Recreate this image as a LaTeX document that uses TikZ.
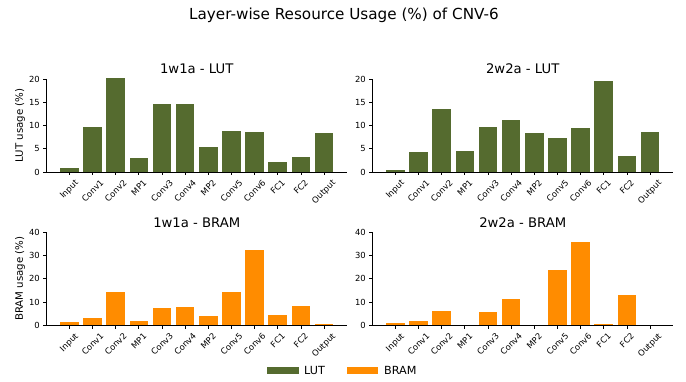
\documentclass[tikz,border=0pt]{standalone}
\usepackage{fontspec}
\setmainfont{DejaVu Sans}
\usepackage{graphicx}
\definecolor{lutgreen}{RGB}{85,107,47}
\definecolor{bramorange}{RGB}{255,140,0}

\tikzset{
  spine/.style={line width=0.8pt, black},
  lutbar/.style={fill=lutgreen},
  brambar/.style={fill=bramorange},
  yticklabel/.style={anchor=east, inner sep=0pt, xshift=-6.5pt, font=\fontsize{8.4}{10}\selectfont},
  xticklabel/.style={anchor=north, inner sep=0pt, yshift=-7pt, font=\fontsize{8.4}{10}\selectfont},
  paneltitle/.style={anchor=base, inner sep=0pt, yshift=5pt, font=\fontsize{13.2}{15}\selectfont},
  axislabel/.style={rotate=90, inner sep=0pt, font=\fontsize{10.2}{12}\selectfont},
  legendtext/.style={anchor=base west, inner sep=0pt, font=\fontsize{11.2}{13}\selectfont},
}

% #1 name, #2 first bar centre x, #3 baseline y, #4 px per unit,
% #5 bar style, #6 values, #7 tick step, #8 axis top, #9 title
\newcommand\chartpanel[9]{%
  \begin{scope}[shift={(#2pt,-#3pt)}, x=23.15pt, y=#4pt]
    \foreach \v [count=\i from 0] in {#6} {
      \ifdim\v pt>0pt \fill[#5] (\i-0.4,0) rectangle (\i+0.4,\v); \fi
    }
    \draw[spine] (-0.99,0) -- (11.99,0);
    \draw[spine] (-0.99,0) -- (-0.99,#8);
    \foreach \t in {0,#7,...,#8} {
      \draw[spine] (-0.99,\t) -- ++(-3.5pt,0);
      \node[yticklabel] (#1-y\t) at (-0.99,\t) {\t};
    }
    \foreach \n [count=\i from 0] in {Input,Conv1,Conv2,MP1,Conv3,Conv4,MP2,Conv5,Conv6,FC1,FC2,Output} {
      \draw[spine] (\i,0) -- ++(0,-3.5pt);
      \node[xticklabel] (#1-x\i) at (\i,0) {\rotatebox{45}{\n}};
    }
    \node[paneltitle] (#1-title) at (5.5,#8) {#9};
  \end{scope}%
}

\begin{document}
\begin{tikzpicture}[x=1pt, y=-1pt]
  \useasboundingbox (0,0) rectangle (686,382);

  \node[anchor=base, inner sep=0pt, font=\fontsize{15.2}{18}\selectfont] (suptitle)
    at (344,19.3) {Layer-wise Resource Usage (\%) of CNV-6};

  \chartpanel{lut1}{69.4}{172}{4.65}{lutbar}
    {0.9,9.7,20.2,3.0,14.6,14.6,5.4,8.8,8.6,2.15,3.2,8.4}{5}{20}{1w1a - LUT}
  \chartpanel{lut2}{395.4}{172}{4.65}{lutbar}
    {0.43,4.3,13.5,4.5,9.6,11.1,8.4,7.3,9.4,19.5,3.4,8.6}{5}{20}{2w2a - LUT}
  \chartpanel{bram1}{69.4}{325.3}{2.325}{brambar}
    {1.4,3.15,14.3,1.9,7.5,7.9,4.0,14.3,32.4,4.4,8.3,0.6}{10}{40}{1w1a - BRAM}
  \chartpanel{bram2}{395.4}{325.3}{2.325}{brambar}
    {1.0,1.9,6.1,0,5.7,11.3,0,23.7,35.7,0.6,13.0,0}{10}{40}{2w2a - BRAM}

  \node[axislabel] (lutlabel) at (20,125.5) {LUT usage (\%)};
  \node[axislabel] (bramlabel) at (20,278.8) {BRAM usage (\%)};

  % legend
  \fill[lutgreen] (266.7,367.3) rectangle (299.3,374.3);
  \node[legendtext] (leg-lut) at (304,374.3) {LUT};
  \fill[bramorange] (346.7,367.3) rectangle (378.3,374.3);
  \node[legendtext] (leg-bram) at (384,374.3) {BRAM};
\end{tikzpicture}
\end{document}
